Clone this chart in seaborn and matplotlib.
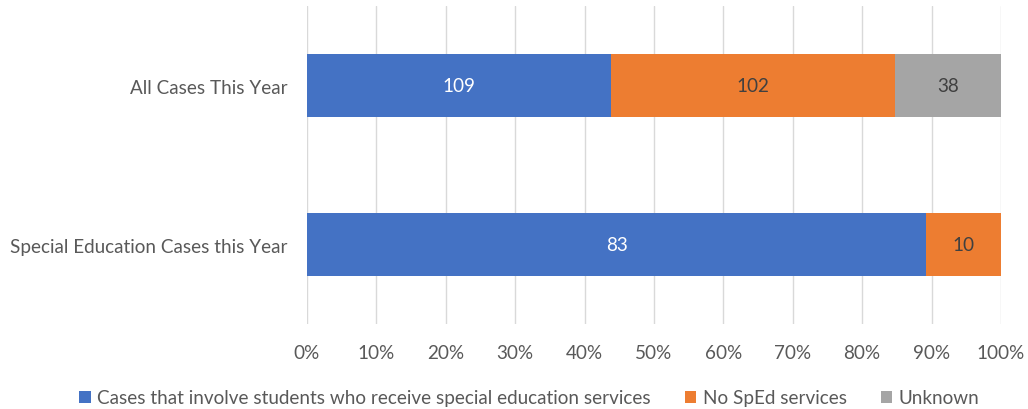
import numpy as np
import pandas as pd
import matplotlib
matplotlib.use("Agg")
import matplotlib.pyplot as plt
from matplotlib.patches import Patch
import seaborn as sns

categories = ["All Cases This Year", "Special Education Cases this Year"]
series_names = [
    "Cases that involve students who receive special education services",
    "No SpEd services",
    "Unknown",
]
sped_counts = [109, 83]
no_sped_counts = [102, 10]
unknown_counts = [38, 0]
tick_labels = ["0%", "10%", "20%", "30%", "40%", "50%", "60%", "70%", "80%", "90%", "100%"]

colors = ["#4472C4", "#ED7D31", "#A5A5A5"]
label_colors = ["white", "#404040", "#404040"]
text_color = "#595959"

sns.set_theme(style="white")
plt.rcParams["font.family"] = ["Lato", "DejaVu Sans"]

counts = np.array([sped_counts, no_sped_counts, unknown_counts], dtype=float)
shares = counts / counts.sum(axis=0) * 100
cum = np.cumsum(shares, axis=0)

fs = 13.6

fig = plt.figure(figsize=(10.28, 4.10), dpi=100)
ax = fig.add_axes([0.2986, 0.207, 0.6751, 0.776])

# Stacked 100% bars: draw the cumulative totals from the outermost segment inward
for i in reversed(range(len(series_names))):
    df = pd.DataFrame({"category": categories, "value": cum[i]})
    sns.barplot(data=df, x="value", y="category", order=categories,
                color=colors[i], width=0.4, saturation=1, ax=ax,
                linewidth=0, zorder=3)

# Segment value labels
for i in range(len(series_names)):
    for j, cat in enumerate(categories):
        if counts[i, j] <= 0:
            continue
        left = cum[i, j] - shares[i, j]
        ax.text(left + shares[i, j] / 2, j, f"{int(counts[i, j])}",
                ha="center", va="center", fontsize=fs,
                color=label_colors[i], zorder=4)

ax.set_xlim(0, 100)
ax.set_ylim(1.5, -0.5)
ax.set_xticks(np.arange(0, 101, 10))
ax.set_xticklabels(tick_labels)
ax.set_xlabel("")
ax.set_ylabel("")
ax.grid(axis="x", color="#D9D9D9", linewidth=1, zorder=0)
ax.grid(axis="y", visible=False)
for s in ax.spines.values():
    s.set_visible(False)
ax.tick_params(axis="both", length=0, labelsize=fs, labelcolor=text_color)
ax.tick_params(axis="x", pad=14)
ax.tick_params(axis="y", pad=14)

handles = [Patch(facecolor=c, edgecolor="none") for c in colors]
fig.legend(handles, series_names, loc="lower center", bbox_to_anchor=(0.515, -0.035),
           ncol=3, frameon=False, fontsize=fs, labelcolor=text_color,
           handlelength=0.6, handleheight=0.6, handletextpad=0.35, columnspacing=1.8)

fig.savefig("out.png", dpi=100)
